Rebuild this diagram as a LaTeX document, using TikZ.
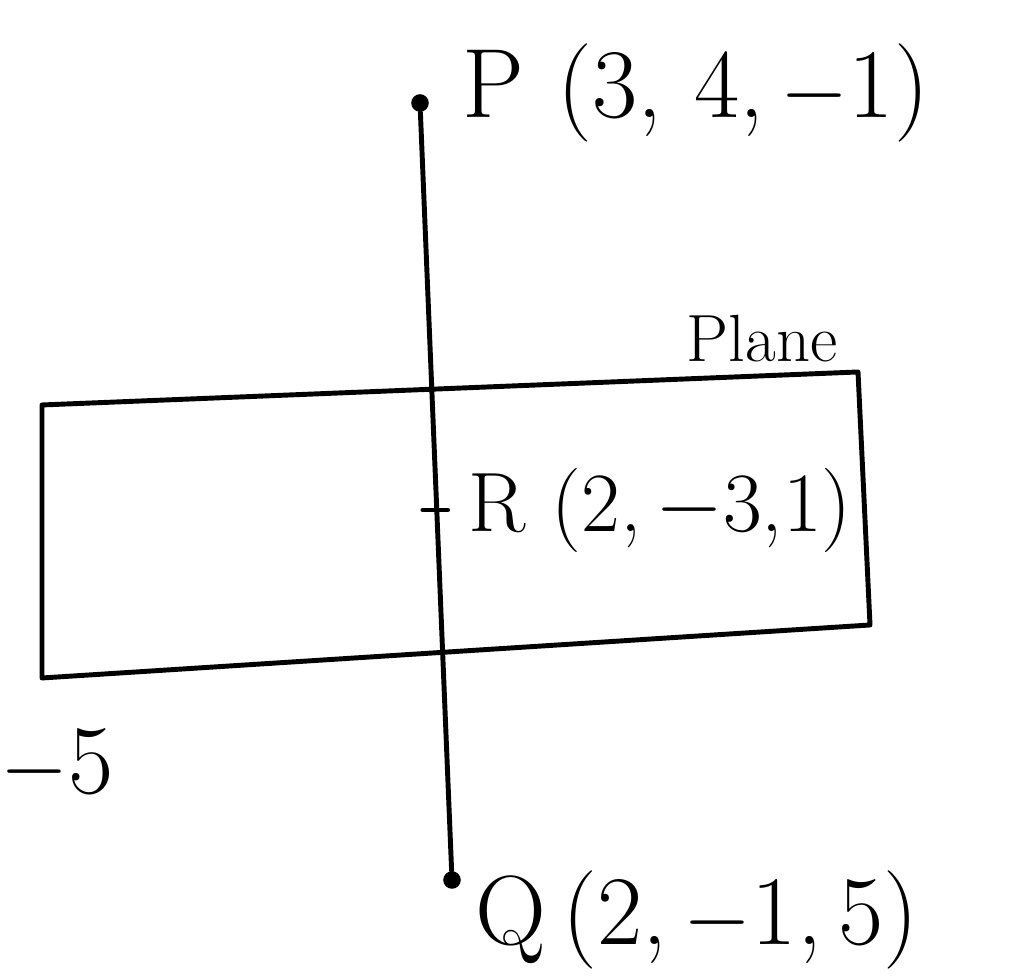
\documentclass[tikz,border=0pt]{standalone}
\usepackage{tikz}
\usetikzlibrary{positioning}
\begin{document}
\begin{tikzpicture}[
    dot/.style={circle, fill, inner sep=0pt, minimum size=5pt},
    lbl/.style={font=\fontsize{28}{32}\selectfont, anchor=west, inner sep=0pt},
    small/.style={font=\fontsize{19}{22}\selectfont, inner sep=0pt},
    edge/.style={line width=1.4pt, line cap=round, line join=round},
]
    \useasboundingbox (0,0) rectangle (10.28,9.77);

    % Plane
    \coordinate (tl) at (0.42,5.72);
    \coordinate (tr) at (8.58,6.05);
    \coordinate (br) at (8.70,3.52);
    \coordinate (bl) at (0.42,2.99);
    \draw[edge] (tl) -- (tr) -- (br) -- (bl) -- cycle;
    \node[small] (plane) at (7.62,6.38) {Plane};

    % Line PQ
    \node[dot] (P) at (4.20,8.74) {};
    \node[dot] (Q) at (4.52,0.97) {};
    \draw[edge] (P) -- (Q);
    \coordinate (R) at (4.37,4.67);
    \draw[edge] ([xshift=-4pt]R) -- ([xshift=3pt]R);

    % Labels
    \node[lbl] (plbl) at (4.62,8.84) {P\,\,(3,\,\,4,\,$-$1)};
    \node[lbl, font=\fontsize{24}{28}\selectfont] (rlbl) at (4.68,4.67) {R (2,\,$-$3,1)};
    \node[lbl] (qlbl) at (4.75,0.57) {Q\,(2,\,$-$1,\,5)};
    \node[lbl] (five) at (0.0,2.12) {$-$5};
\end{tikzpicture}
\end{document}
